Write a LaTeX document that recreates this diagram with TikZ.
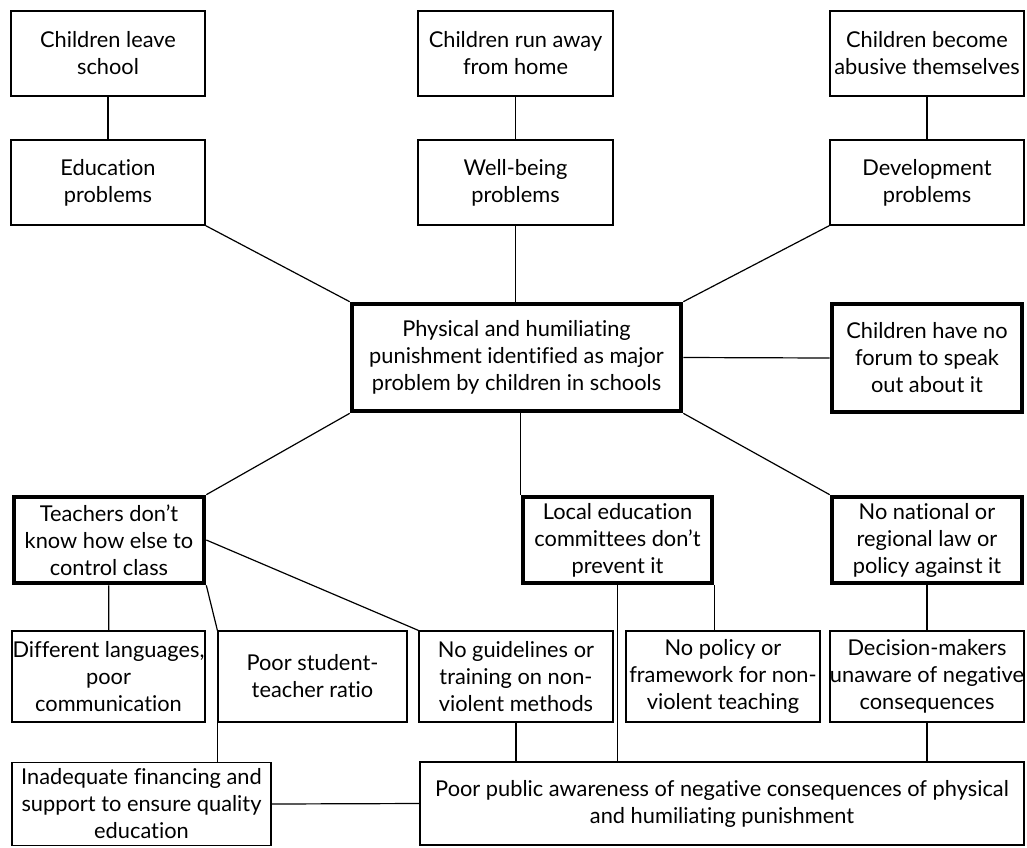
\documentclass[tikz,border=0pt]{standalone}
\usepackage{fontspec}
\setmainfont{Lato}[Ligatures={NoCommon}]
\usepackage{tikz}
\usetikzlibrary{positioning}

\begin{document}
\begin{tikzpicture}[x=0.5pt, y=-0.5pt]
    \tikzstyle{effect}=[rectangle, draw=black, line width=0.6pt, align=center,
            inner xsep=0pt, inner ysep=1pt, font=\fontsize{10.9}{13.5}\selectfont]
    \tikzstyle{core}=[effect, line width=2.3pt]
    \tikzstyle{link}=[line width=0.6pt]

    \useasboundingbox (0,0) rectangle (1027,847);

        % top row: consequences
        \node[effect, minimum width=97pt, minimum height=42.5pt] (leave) at (108,53.5)
        {Children leave\\school};
        \node[effect, minimum width=97.5pt, minimum height=42.5pt] (runaway) at (515.5,53.5)
        {Children run away\\from home};
        \node[effect, minimum width=97pt, minimum height=42.5pt] (abusive) at (927,53.5)
        {Children become\\abusive themselves};

        \node[effect, minimum width=97pt, minimum height=42.5pt] (edu) at (108,182.5)
        {Education\\problems};
        \node[effect, minimum width=97.5pt, minimum height=42.5pt] (well) at (515.5,182.5)
        {Well-being\\problems};
        \node[effect, minimum width=97pt, minimum height=42.5pt] (dev) at (927,182.5)
        {Development\\problems};

        % the core problem
        \node[core, minimum width=164.5pt, minimum height=53.5pt] (problem) at (516.5,357.5)
        {Physical and humiliating\\punishment identified as major\\problem by children in schools};
        \node[core, minimum width=95pt, minimum height=54pt] (forum) at (927,358)
        {Children have no\\forum to speak\\out about it};

        % causes
        \node[core, minimum width=95pt, minimum height=43pt] (teachers) at (109,540)
        {Teachers don’t\\know how else to\\control class};
        \node[core, minimum width=94.5pt, minimum height=43pt] (local) at (617.5,540)
        {Local education\\committees don’t\\prevent it};
        \node[core, minimum width=95pt, minimum height=43pt] (national) at (927,540)
        {No national or\\regional law or\\policy against it};

        \node[effect, minimum width=96.5pt, minimum height=45.5pt] (langs) at (108.5,676.5)
        {Different languages,\\poor\\communication};
        \node[effect, minimum width=94.5pt, minimum height=45.5pt] (ratio) at (312.5,676.5)
        {Poor student-\\teacher ratio};
        \node[effect, minimum width=97pt, minimum height=45.5pt] (guide) at (516,676.5)
        {No guidelines or\\training on non-\\violent methods};
        \node[effect, minimum width=97pt, minimum height=45.5pt] (nopolicy) at (723,676.5)
        {No policy or\\framework for non-\\violent teaching};
        \node[effect, minimum width=97pt, minimum height=45.5pt] (decision) at (927,676.5)
        {Decision-makers\\unaware of negative\\consequences};

        \node[effect, minimum width=129.5pt, minimum height=41.5pt] (finance) at (141.5,804)
        {Inadequate financing and\\support to ensure quality\\education};
        \node[effect, minimum width=302pt, minimum height=41.5pt] (public) at (722,803.5)
        {Poor public awareness of negative consequences of physical\\and humiliating punishment};

        % connectors
        \foreach \a/\b in {leave/edu, runaway/well, abusive/dev, teachers/langs, national/decision}
        {
            \draw[link] (\a) -- (\b);
        }

        \draw[link] (edu.south east) -- (problem.north west);
        \draw[link] (well.south) -- (well.south |- problem.north);
        \draw[link] (dev.south west) -- (problem.north east);
        \draw[link] (problem.east) -- (forum.west);

        \draw[link] (problem.south west) -- (teachers.north east);
        \draw[link] (problem.south -| local.north west) -- (local.north west);
        \draw[link] (problem.south east) -- (national.north west);

        \draw[link] (teachers.south east) -- (ratio.north west);
        \draw[link] (teachers.east) -- (guide.north west);
        \draw[link] (local.south) -- (local.south |- public.north);
        \draw[link] (local.south east) -- (local.south east |- nopolicy.north);

        \draw[link] (ratio.south west) -- (ratio.south west |- finance.north);
        \draw[link] (guide.south) -- (guide.south |- public.north);
        \draw[link] (decision.south) -- (decision.south |- public.north);
        \draw[link] (finance.east) -- (public.west);

    \end{tikzpicture}
\end{document}
